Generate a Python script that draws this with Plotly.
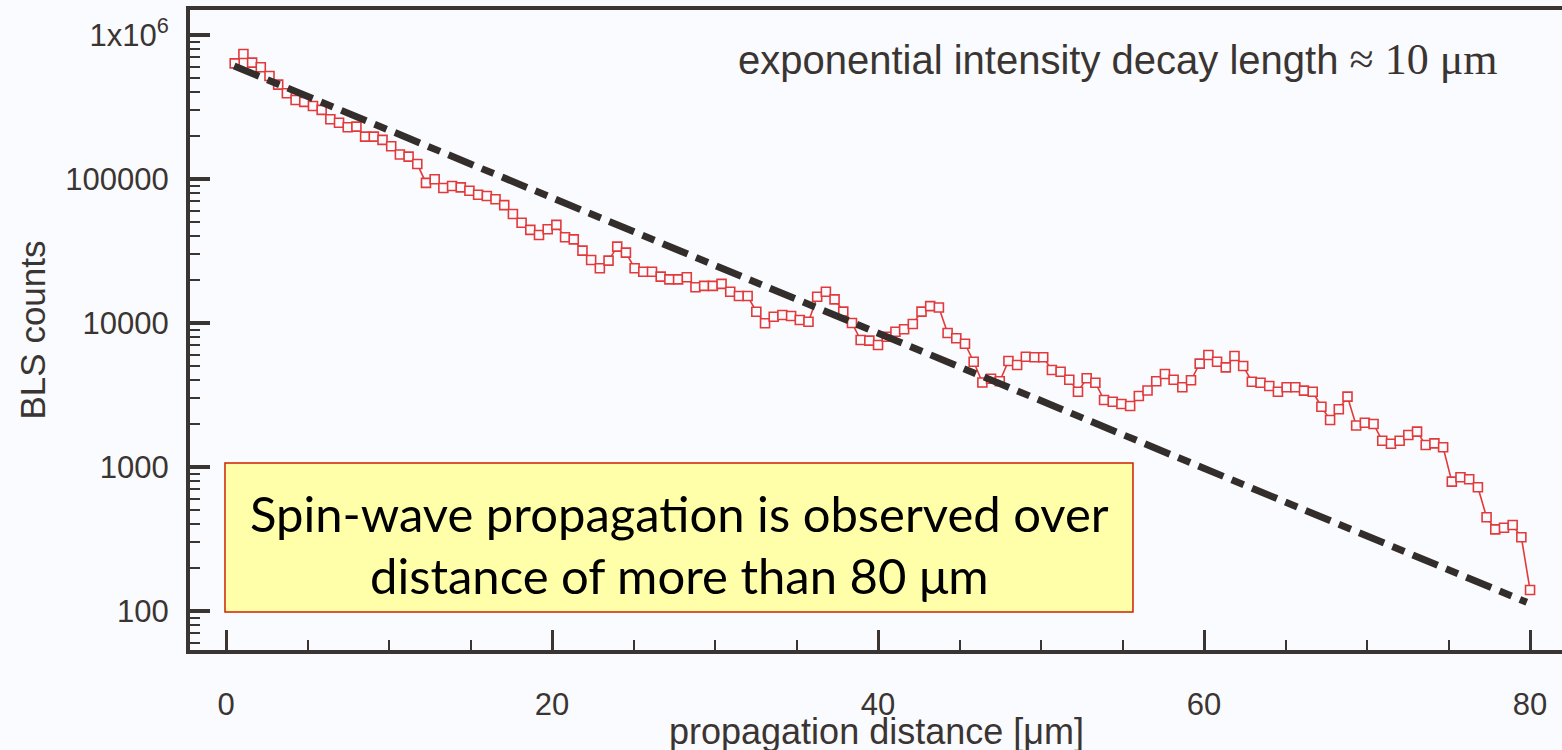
import plotly.graph_objects as go

# ---- data ----
n_points = 150
distance_um = [round(80.0 * i / n_points, 3) for i in range(1, n_points + 1)]
bls_counts = [
    635000, 738000, 643000, 597000, 519000, 452000, 394000, 354000, 343000, 321000,
    302000, 260000, 246000, 229000, 231000, 197000, 197000, 187000, 169000, 148000,
    143000, 127000, 94000, 99500, 86700, 89400, 87500, 82900, 77800, 76200,
    72300, 65900, 57100, 49700, 44300, 40800, 44800, 48000, 39400, 38100,
    31800, 27400, 24000, 27100, 33900, 30800, 24000, 22700, 22700, 21000,
    20100, 20100, 20800, 17700, 18100, 18100, 18700, 16500, 15400, 15400,
    11980, 9950, 11060, 11370, 11190, 10500, 10200, 15200, 16500, 14600,
    12000, 10000, 7620, 7540, 7030, 8030, 8700, 9040, 9840, 12000,
    13100, 12800, 8530, 7830, 7180, 5380, 3860, 4100, 3940, 5450,
    5110, 5830, 5780, 5780, 4720, 4590, 4040, 3330, 4130, 3850,
    2920, 2840, 2740, 2650, 3110, 3400, 3940, 4420, 4040, 3580,
    4000, 5220, 6000, 5380, 4920, 5900, 5030, 3910, 3850, 3650,
    3330, 3580, 3580, 3390, 3330, 2620, 2120, 2520, 3080, 1940,
    2030, 1990, 1520, 1450, 1520, 1670, 1760, 1420, 1460, 1370,
    791, 848, 822, 723, 448, 369, 379, 396, 325, 140,
]
fit_x = [0.5, 79.8]
fit_y = [610000, 115]

ytick_vals = [100, 1000, 10000, 100000, 1000000]
ytick_text = ["100", "1000", "10000", "100000", "1x10<sup>6</sup>"]

bg = "#fafbfe"
axc = "#3a3532"
red = "#e23a3a"

fig = go.Figure()
fig.add_trace(go.Scatter(
    x=distance_um, y=bls_counts, mode="lines+markers",
    line=dict(color=red, width=1.6),
    marker=dict(symbol="square", size=9, color=bg, line=dict(color=red, width=1.6)),
    showlegend=False,
))
fig.add_trace(go.Scatter(
    x=fit_x, y=fit_y, mode="lines",
    line=dict(color="#332e2b", width=7, dash="27px,9px,13px,9px"),
    showlegend=False,
))

fig.update_layout(
    width=1562, height=750,
    margin=dict(l=190, r=0, t=10, b=100),
    paper_bgcolor=bg, plot_bgcolor=bg,
    font=dict(family="Liberation Sans, Arial, sans-serif", color=axc),
    showlegend=False,
)

fig.update_xaxes(
    range=[-2.21, 81.96], showgrid=False, zeroline=False, automargin=False,
    showline=True, linewidth=4, linecolor=axc, mirror=True,
    ticks="inside", ticklen=20, tickwidth=3, tickcolor=axc,
    tick0=0, dtick=20, tickfont=dict(size=31, color=axc),
    ticklabelstandoff=24,
    minor=dict(ticks="inside", ticklen=10, tickwidth=2, tickcolor=axc, tick0=0, dtick=5, showgrid=False),
)
fig.update_yaxes(
    type="log", range=[1.7292, 6.1736], showgrid=False, zeroline=False, automargin=False,
    showline=True, linewidth=4, linecolor=axc, mirror=False,
    ticks="inside", ticklen=20, tickwidth=4, tickcolor=axc,
    tickmode="array", tickvals=ytick_vals, ticktext=ytick_text,
    tickfont=dict(size=31, color=axc), ticklabelstandoff=11,
    minor=dict(ticks="inside", ticklen=10, tickwidth=2, tickcolor=axc, dtick="D1", showgrid=False),
    title=dict(text="BLS counts", font=dict(size=35, color=axc), standoff=10),
)

# x-axis title placed below the tick labels
fig.add_annotation(xref="paper", yref="paper", x=0.5, y=-0.128,
                   text="propagation distance [μm]", showarrow=False,
                   font=dict(size=36, color=axc), xanchor="center", yanchor="middle")

# annotation box (paper coords)
fig.add_shape(type="rect", xref="paper", yref="paper",
              x0=0.0255, x1=0.6873, y0=0.0594, y1=0.2922,
              fillcolor="#ffffaa", line=dict(color="#cc2200", width=1.5), layer="above")
fig.add_annotation(xref="paper", yref="paper", x=0.357, y=0.214,
                   text="Spin-wave propagation is observed over", showarrow=False,
                   font=dict(family="Lato, Open Sans, sans-serif", size=49, color="#000000"),
                   xanchor="center", yanchor="middle")
fig.add_annotation(xref="paper", yref="paper", x=0.357, y=0.117,
                   text="distance of more than 80 μm", showarrow=False,
                   font=dict(family="Lato, Open Sans, sans-serif", size=49, color="#000000"),
                   xanchor="center", yanchor="middle")
fig.add_annotation(xref="paper", yref="paper", x=0.9548, y=0.922,
                   text="exponential intensity decay length <span style='font-family:Liberation Serif, serif; font-size:44px'>≈ 10 μm</span>",
                   showarrow=False, font=dict(size=40, color=axc),
                   xanchor="right", yanchor="middle")

fig.write_html("out.html")
